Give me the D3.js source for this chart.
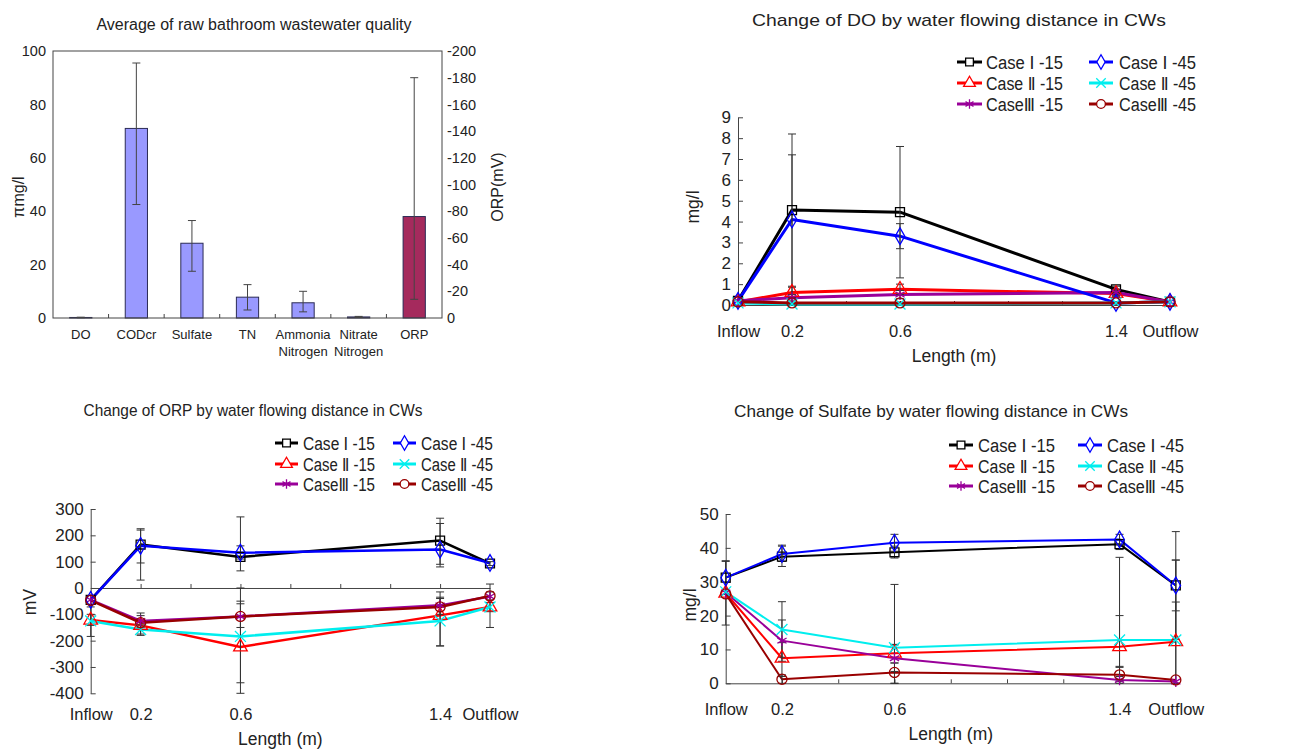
<!DOCTYPE html>
<html>
<head>
<meta charset="utf-8">
<script src="https://cdn.jsdelivr.net/npm/d3@7"></script>
<style>
  body { margin: 0; background: #fff; }
  svg text { font-family: "Liberation Sans", Arial, "DejaVu Sans", "Noto Sans CJK KR", sans-serif; fill: #222; }
</style>
</head>
<body>
<svg id="chart" width="1289" height="750"></svg>
<script>
// ---- raw bathroom wastewater (bar chart) ----
const qualityItems = ["DO", "CODcr", "Sulfate", "TN", "Ammonia\nNitrogen", "Nitrate\nNitrogen", "ORP"];
const qualityMean = [0.2, 71, 28, 7.8, 5.7, 0.4];      // mg/l, left axis
const qualityLow  = [0.1, 42.5, 17.5, 3, 2.3, 0.2];
const qualityHigh = [0.3, 95.5, 36.5, 12.5, 10, 0.6];
const orpRaw = [-76, -14, -180];                        // mean, low, high (mV), right axis
const leftTicks = [0, 20, 40, 60, 80, 100];
const rightTicks = [0, -20, -40, -60, -80, -100, -120, -140, -160, -180, -200];

// ---- flowing distance charts ----
const caseNames = ["Case Ⅰ -15", "Case Ⅱ -15", "CaseⅢ -15", "Case Ⅰ -45", "Case Ⅱ -45", "CaseⅢ -45"];
const lengthPos = [0, 0.2, 0.6, 1.4, 1.6];
const lengthLabels = ["Inflow", "0.2", "0.6", "1.4", "Outflow"];

const doMean = [
  [0.2, 4.55, 4.45, 0.75, 0.15],
  [0.15, 0.6, 0.75, 0.55, 0.15],
  [0.2, 0.35, 0.5, 0.6, 0.15],
  [0.2, 4.1, 3.3, 0.1, 0.15],
  [0.1, 0.05, 0.05, 0.1, 0.15],
  [0.15, 0.1, 0.1, 0.1, 0.15]
];
const doErr = [
  [null, [0.9, 8.2], [1.3, 7.6], [0.6, 0.9], null],
  [null, [0.35, 0.85], [0.5, 1.0], [0.4, 0.7], null],
  [null, [0.2, 0.5], [0.3, 0.7], [0.45, 0.75], null],
  [null, [0, 7.2], [2.7, 3.9], null, null],
  [null, null, null, null, null],
  [null, null, null, null, null]
];

const orpMean = [
  [-45, 165, 118, 180, 93],
  [-122, -142, -224, -104, -72],
  [-45, -125, -108, -66, -32],
  [-45, 160, 134, 146, 95],
  [-125, -158, -184, -125, -72],
  [-47, -132, -108, -72, -30]
];
const orpErr = [
  [null, [30, 220], [65, 270], [90, 265], [85, 100]],
  [[-184, -72], [-180, -95], [-400, -50], [-220, -15], [-150, 15]],
  [null, [-150, -105], [-150, -60], [-100, -35], [-45, -15]],
  [null, [95, 225], [110, 160], [80, 245], null],
  [[-142, -100], [-175, -140], [-360, 0], [-220, -40], [-90, -55]],
  [null, null, null, null, null]
];

const sulfMean = [
  [31.2, 37.4, 38.7, 41.1, 28.9],
  [26.6, 7.4, 8.9, 10.8, 12.3],
  [26.8, 12.6, 7.4, 1.0, 0.5],
  [31.2, 38.2, 41.5, 42.5, 28.9],
  [27.0, 15.9, 10.5, 12.8, 12.8],
  [26.4, 1.2, 3.2, 2.5, 1.0]
];
const sulfErr = [
  [[26.2, 36.2], [34.5, 40.8], [37, 40.5], [39.5, 42.5], [13, 44.8]],
  [[17.2, 36], [2, 12], [6, 11.5], [1, 37.2], [0, 24]],
  [null, [6.5, 18.7], [3.5, 11.3], [0, 2], null],
  [null, [36, 40.5], [39, 44], [41, 44], [21.4, 36.4]],
  [null, [7.7, 24.1], [0, 29.2], [5, 20], [0, 36.4]],
  [null, [0, 2.5], [0, 6], [0.5, 4.7], null]
];

// styles
const caseColors = ["#000000", "#ff0000", "#990099", "#0000ff", "#00eeee", "#990000"];
const caseSymbols = [d3.symbolSquare, d3.symbolTriangle, d3.symbolAsterisk || d3.symbolCross,
                     d3.symbolDiamond, d3.symbolX || d3.symbolCross, d3.symbolCircle];
const axisColor = "#444";

const svg = d3.select("#chart");

function styleAxis(sel, size) {
  sel.attr("font-family", null).attr("font-size", null);
  sel.selectAll(".domain").attr("stroke", axisColor);
  sel.selectAll(".tick line").attr("stroke", axisColor);
  sel.selectAll(".tick text").attr("font-size", size).attr("fill", "#222");
}
const fmtNeg = d => d < 0 ? "-" + (-d) : String(d);

// ================= bar chart =================
function drawBars() {
  const g = svg.append("g");
  const L = 53, R = 442, T = 51, B = 318;
  const x = d3.scaleBand().domain(qualityItems).range([L, R]).paddingInner(0.6).paddingOuter(0.3);
  const y = d3.scaleLinear().domain([0, 100]).range([B, T]);
  const yR = d3.scaleLinear().domain([0, -200]).range([B, T]);

  g.append("text").attr("x", 254).attr("y", 30).attr("text-anchor", "middle")
    .attr("font-size", 16).attr("textLength", 315).attr("lengthAdjust", "spacingAndGlyphs")
    .text("Average of raw bathroom wastewater quality");

  const bars = qualityMean.map((v, i) => ({ k: qualityItems[i], v, lo: qualityLow[i], hi: qualityHigh[i], sc: y, fill: "#9999ff" }));
  bars.push({ k: qualityItems[6], v: orpRaw[0], lo: orpRaw[1], hi: orpRaw[2], sc: yR, fill: "#a52a5d" });

  g.selectAll(".bar").data(bars).join("rect")
    .attr("x", d => x(d.k)).attr("y", d => d.sc(d.v))
    .attr("width", x.bandwidth()).attr("height", d => B - d.sc(d.v))
    .attr("fill", d => d.fill).attr("stroke", "#2b2b55").attr("stroke-width", 1);

  const eb = g.selectAll(".eb").data(bars).join("g").attr("stroke", "#444").attr("stroke-width", 1);
  eb.append("line").attr("x1", d => x(d.k) + x.bandwidth() / 2).attr("x2", d => x(d.k) + x.bandwidth() / 2)
    .attr("y1", d => d.sc(d.lo)).attr("y2", d => d.sc(d.hi));
  [d => d.lo, d => d.hi].forEach(f => {
    eb.append("line").attr("x1", d => x(d.k) + x.bandwidth() / 2 - 4).attr("x2", d => x(d.k) + x.bandwidth() / 2 + 4)
      .attr("y1", d => d.sc(f(d))).attr("y2", d => d.sc(f(d)));
  });

  g.append("rect").attr("x", L).attr("y", T).attr("width", R - L).attr("height", B - T)
    .attr("fill", "none").attr("stroke", axisColor);

  // category separators on the x axis
  g.selectAll(".sep").data(qualityItems.slice(1)).join("line")
    .attr("x1", (d, i) => L + x.step() * (i + 1)).attr("x2", (d, i) => L + x.step() * (i + 1))
    .attr("y1", B).attr("y2", B - 4).attr("stroke", axisColor);

  const la = g.append("g").attr("transform", `translate(${L},0)`)
    .call(d3.axisLeft(y).tickValues(leftTicks).tickSize(0).tickPadding(7));
  styleAxis(la, 14.5); la.select(".domain").remove();
  const ra = g.append("g").attr("transform", `translate(${R},0)`)
    .call(d3.axisRight(yR).tickValues(rightTicks).tickSize(0).tickPadding(5).tickFormat(fmtNeg));
  styleAxis(ra, 14.5); ra.select(".domain").remove();

  const xa = g.append("g").attr("transform", `translate(0,${B + 12})`)
    .call(d3.axisBottom(x).tickSize(0).tickPadding(0));
  styleAxis(xa, 13); xa.select(".domain").remove();
  xa.selectAll(".tick text").each(function (d) {
    const t = d3.select(this); t.text(null);
    d.split("\n").forEach((s, i) => t.append("tspan").attr("x", 0).attr("dy", i ? "1.3em" : "0.71em").text(s));
  });

  g.append("text").attr("transform", "translate(24,197) rotate(-90)").attr("text-anchor", "middle")
    .attr("font-size", 16).text("πmg/l");
  g.append("text").attr("transform", "translate(503,187) rotate(-90)").attr("text-anchor", "middle")
    .attr("font-size", 16).text("ORP(mV)");
}

// ================= line charts =================
function drawLineChart(c) {
  const g = svg.append("g");
  const x = d3.scaleLinear().domain([0, 1.6]).range([c.left, c.right]);
  const y = d3.scaleLinear().domain(c.yDomain).range([c.bottom, c.top]);
  const yc = v => y(Math.max(c.yDomain[0], Math.min(c.yDomain[1], v)));

  g.append("text").attr("x", c.titleX).attr("y", c.titleY).attr("text-anchor", "middle")
    .attr("font-size", 17).attr("textLength", c.titleLen).attr("lengthAdjust", "spacingAndGlyphs")
    .text(c.title);

  // axes
  const ya = g.append("g").attr("transform", `translate(${c.left},0)`)
    .call(d3.axisLeft(y).tickValues(c.yTicks).tickSizeInner(-5).tickSizeOuter(0).tickPadding(7).tickFormat(fmtNeg));
  styleAxis(ya, 17);
  const xa = g.append("g").attr("transform", `translate(0,${y(0)})`)
    .call(d3.axisBottom(x).tickValues([0.2, 0.4, 0.6, 0.8, 1.0, 1.2, 1.4]).tickSizeInner(-4).tickSizeOuter(0).tickFormat(""));
  styleAxis(xa, 16);
  const xl = g.append("g").attr("transform", `translate(0,${c.labelTop})`)
    .call(d3.axisBottom(x).tickValues(lengthPos).tickSize(0).tickPadding(0).tickFormat((d, i) => lengthLabels[i]));
  styleAxis(xl, 16.5); xl.select(".domain").remove();

  g.append("text").attr("x", (c.left + c.right) / 2 + c.xTitleShift).attr("y", c.xTitleY)
    .attr("text-anchor", "middle").attr("font-size", 17.5).text("Length (m)");
  g.append("text").attr("transform", `translate(${c.yTitleX},${c.yTitleY}) rotate(-90)`)
    .attr("text-anchor", "middle").attr("font-size", 17.5).text(c.yTitle);

  const series = c.means.map((vals, i) => ({
    i, pts: vals.map((v, j) => ({ x: lengthPos[j], v, e: c.errs[i][j] }))
  }));
  const line = d3.line().x(d => x(d.x)).y(d => y(d.v));

  g.selectAll(".ln").data(series).join("path")
    .attr("d", d => line(d.pts)).attr("fill", "none")
    .attr("stroke", d => caseColors[d.i]).attr("stroke-width", c.lineW).attr("stroke-linejoin", "round");

  // error bars
  const errs = series.flatMap(s => s.pts.filter(p => p.e));
  const eg = g.append("g").attr("stroke", "#333").attr("stroke-width", 1);
  eg.selectAll(".ev").data(errs).join("line")
    .attr("x1", d => x(d.x)).attr("x2", d => x(d.x)).attr("y1", d => yc(d.e[0])).attr("y2", d => yc(d.e[1]));
  [0, 1].forEach(k => {
    eg.selectAll(".ec" + k).data(errs.filter(d => d.e[k] >= c.yDomain[0] && d.e[k] <= c.yDomain[1])).join("line")
      .attr("x1", d => x(d.x) - 4).attr("x2", d => x(d.x) + 4)
      .attr("y1", d => y(d.e[k])).attr("y2", d => y(d.e[k]));
  });

  // markers
  series.forEach(s => {
    g.selectAll(null).data(s.pts).join("path")
      .attr("transform", d => `translate(${x(d.x)},${y(d.v)})`)
      .attr("d", d3.symbol(caseSymbols[s.i], 80))
      .attr("fill", "none").attr("stroke", caseColors[s.i]).attr("stroke-width", 1.3);
  });

  // legend
  caseNames.forEach((name, i) => {
    const col = i < 3 ? c.legend.col1 : c.legend.col2;
    const ry = c.legend.rows[i % 3];
    const lg = g.append("g");
    lg.append("line").attr("x1", col[0]).attr("x2", col[1]).attr("y1", ry).attr("y2", ry)
      .attr("stroke", caseColors[i]).attr("stroke-width", 3);
    lg.append("path").attr("transform", `translate(${(col[0] + col[1]) / 2},${ry})`)
      .attr("d", d3.symbol(caseSymbols[i], 60)).attr("fill", "#fff")
      .attr("stroke", caseColors[i]).attr("stroke-width", 1.3);
    lg.append("text").attr("x", col[2]).attr("y", ry + 6.5).attr("font-size", 18)
      .attr("textLength", c.legend.textLen).attr("lengthAdjust", "spacingAndGlyphs").text(name);
  });
}

drawBars();

drawLineChart({
  title: "Change of DO by water flowing distance in CWs", titleX: 959, titleY: 26, titleLen: 414,
  left: 738, right: 1170, top: 117.3, bottom: 305, yDomain: [0, 9], yTicks: d3.range(0, 10),
  means: doMean, errs: doErr, lineW: 3,
  labelTop: 325, xTitleY: 362, xTitleShift: 0, yTitle: "mg/l", yTitleX: 699, yTitleY: 207,
  legend: { rows: [62, 83, 104], col1: [957, 982, 986], col2: [1089, 1113, 1119], textLen: 77 }
});

drawLineChart({
  title: "Change of ORP by water flowing distance in CWs", titleX: 253, titleY: 416, titleLen: 339,
  left: 90.7, right: 490, top: 509, bottom: 693.3, yDomain: [-400, 300], yTicks: d3.range(-400, 301, 100),
  means: orpMean, errs: orpErr, lineW: 2.5,
  labelTop: 708.6, xTitleY: 745, xTitleShift: -10, yTitle: "mV", yTitleX: 36, yTitleY: 602,
  legend: { rows: [443, 464, 484], col1: [275, 298, 303], col2: [393, 416, 421], textLen: 72 }
});

drawLineChart({
  title: "Change of Sulfate by water flowing distance in CWs", titleX: 931, titleY: 417, titleLen: 394,
  left: 725.7, right: 1175.8, top: 514, bottom: 683.3, yDomain: [0, 50], yTicks: d3.range(0, 51, 10),
  means: sulfMean, errs: sulfErr, lineW: 2,
  labelTop: 703.6, xTitleY: 740, xTitleShift: 0, yTitle: "mg/l", yTitleX: 696, yTitleY: 605,
  legend: { rows: [445, 466, 486], col1: [949, 973, 978], col2: [1078, 1102, 1107], textLen: 77 }
});
</script>
</body>
</html>
